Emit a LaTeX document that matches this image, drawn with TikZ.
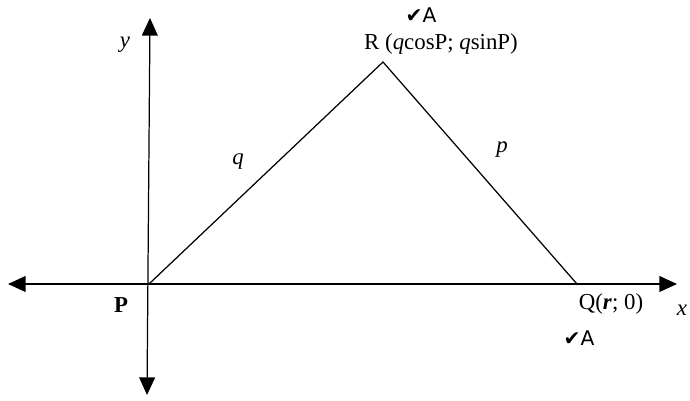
\documentclass[tikz,border=0pt]{standalone}
\usepackage{fontspec}
\setmainfont{Liberation Serif}
\newfontfamily\markfont{DejaVu Sans}
\usetikzlibrary{arrows.meta, positioning}
\tikzset{
    axis/.style={line width=0.7pt, {Triangle[length=10pt,width=9pt]}-{Triangle[length=10pt,width=9pt]}},
    side/.style={line width=0.7pt},
    lbl/.style={font=\fontsize{13}{15}\selectfont, inner sep=1pt},
    tick/.style={font=\markfont\fontsize{11.5}{13}\selectfont, inner sep=1pt}
}

\begin{document}
\begin{tikzpicture}[x=0.02cm, y=-0.02cm]
    \useasboundingbox (0,0) rectangle (690,401);
    \coordinate (P) at (149,284);
    \coordinate (Q) at (577,284);
    \coordinate (R) at (383,62);
    \coordinate (xl) at (8,284);
    \coordinate (xr) at (677,284);
    \coordinate (yt) at (150,18);
    \coordinate (yb) at (147,395);

    % axes
    \draw[axis] (xl) -- (xr);
    \draw[axis] (yb) -- (yt);

    % triangle
    \draw[side] (P) -- (R) -- (Q);

    \node[lbl] (ylab) at (125,45) {\textit{y}};
    \node[lbl] (xlab) at (682,310) {\textit{x}};
    \node[lbl] (Rlab) at (441,44) {R (\textit{q}cosP; \textit{q}sinP)};
    \node[lbl] (Qlab) at (611,304) {Q(\textbf{\textit{r}}; 0)};
    \node[lbl] (Plab) at (121,305) {\textbf{P}};
    \node[lbl] (qlab) at (238,162) {\textit{q}};
    \node[lbl] (plab) at (502,150) {\textit{p}};
    \node[tick] (Rtick) at (421,15) {✔A};
    \node[tick] (Qtick) at (579,338) {✔A};
\end{tikzpicture}
\end{document}
